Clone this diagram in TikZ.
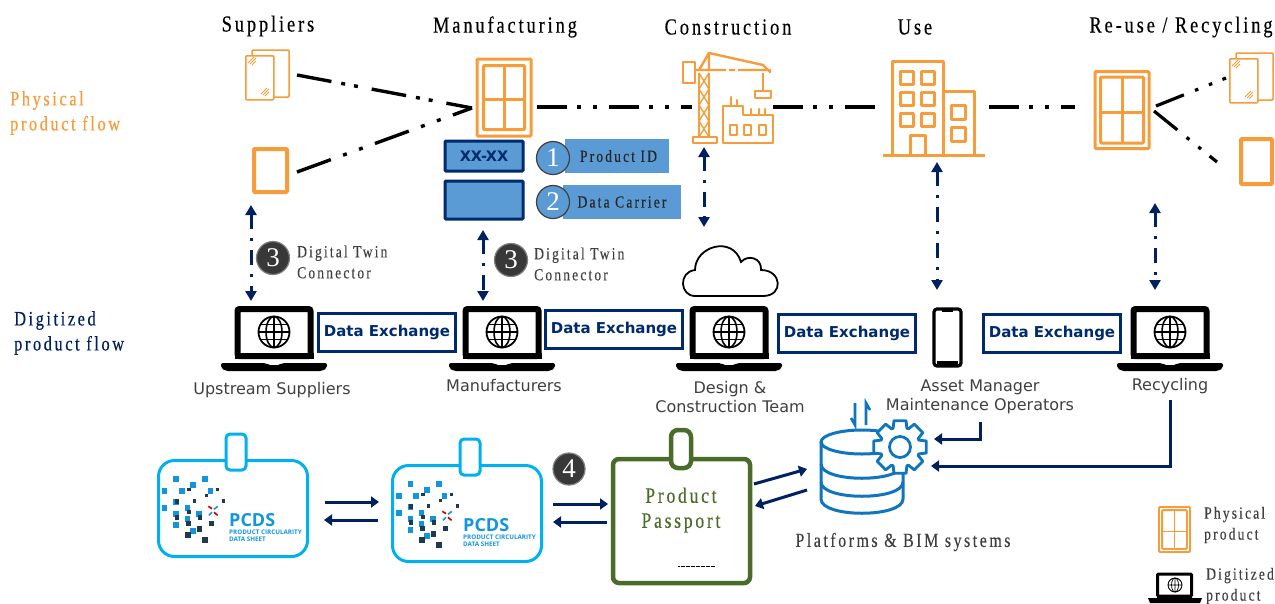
\documentclass[tikz,border=0pt]{standalone}
\usepackage{fontspec}
\usetikzlibrary{arrows.meta,calc}
\setmainfont{Liberation Serif}
\newfontfamily\trf[FakeStretch=0.8,LetterSpace=12.5,RawFeature={embolden=0.25}]{Liberation Serif}
\newfontfamily\lab{DejaVu Sans}
\newfontfamily\pcd{Open Sans}
\definecolor{org}{HTML}{F79C3A}
\definecolor{navy}{HTML}{002060}
\definecolor{navyb}{HTML}{002A6E}
\definecolor{sky}{HTML}{5B9BD5}
\definecolor{cyanb}{HTML}{00B0F0}
\definecolor{grn}{HTML}{4A6B2A}
\definecolor{dbb}{HTML}{0F75BD}
\definecolor{logob}{HTML}{1296DB}
\definecolor{logod}{HTML}{1F3A4D}
\definecolor{txtg}{HTML}{404040}
\newcommand{\fs}[1]{\fontsize{#1}{#1}\selectfont}
\tikzset{
  flow/.style={line width=3.4pt,black,dash pattern=on 30pt off 10pt on 4pt off 12pt on 4pt off 12pt},
  flowb/.style={line width=3.4pt,black,dash pattern=on 35pt off 10pt on 4pt off 9pt on 4pt off 14pt},
  flowc/.style={line width=3.4pt,black,dash pattern=on 36pt off 13pt on 4pt off 13pt on 4pt off 13pt},
  twin/.style={line width=3pt,navy,dash pattern=on 15pt off 9pt on 3pt off 9pt,{Triangle[length=10pt,width=11pt]}-{Triangle[length=10pt,width=11pt]}},
  link/.style={line width=3pt,navy,-{Triangle[length=8pt,width=11pt]}},
  ico/.style={org,line width=2.4pt,line join=round},
  winout/.style={draw=org,line width=3pt,fill=white,inner sep=0pt,rounded corners=1pt},
  head/.style={inner sep=0pt,font=\trf\fs{23},text=black},
  side/.style={inner sep=0pt,anchor=west,align=left,font=\trf\fs{20.5}},
  smalltxt/.style={inner sep=0pt,anchor=west,align=left,font=\trf\fs{17},text=txtg},
  who/.style={inner sep=0pt,align=center,font=\lab\fs{16},text=txtg},
  dx/.style={draw=navyb,line width=3pt,fill=white,inner sep=0pt,font=\lab\bfseries\fs{15},text=navyb,minimum height=38pt,minimum width=137pt},
  num/.style={circle,draw=#1,line width=1.2pt,minimum size=33pt,inner sep=0pt,font=\fs{27},text=white},
  numdark/.style={num=gray,fill=black!78},
  numblue/.style={num=black!75,fill=sky},
  bar/.style={fill=sky,inner sep=0pt,font=\trf\fs{17},text=black!85},
  carrier/.style={draw=navyb,line width=3pt,fill=sky,inner sep=0pt,rounded corners=1pt,minimum width=78pt,font=\lab\bfseries\fs{14.5},text=navyb},
  badge/.style={draw=cyanb,line width=3pt,fill=white,inner sep=0pt,rounded corners=16pt,minimum width=149pt,minimum height=96pt},
  tab/.style={draw=cyanb,line width=3pt,fill=white,inner sep=0pt,rounded corners=4pt,minimum width=20pt,minimum height=36pt},
}
% window icon: name, cx, cy, w, h, inset, line width
\newcommand{\windowicon}[7]{%
  \node[winout,line width=#7pt,minimum width=#4pt,minimum height=#5pt] (#1) at (#2,#3) {};
  \draw[org,line width=#7pt,rounded corners=1pt] ($(#1.north west)+(#6,#6)$) rectangle ($(#1.south east)+(-#6,-#6)$);
  \draw[org,line width=#7pt] ($(#1.north)+(0,#6)$) -- ($(#1.south)+(0,-#6)$);
  \draw[org,line width=#7pt] ($(#1.west)+(#6,2)$) -- ($(#1.east)+(-#6,2)$);
}
% glass panes: name, x of front left, y of front top
\newcommand{\glassicon}[3]{%
  \begin{scope}[shift={(#2,#3)}]
  \draw[org,line width=1.5pt,fill=white,rounded corners=1pt] (7,-5) rectangle (44,42);
  \node[draw=org,line width=1.5pt,fill=white,rounded corners=1pt,inner sep=0pt,minimum width=28pt,minimum height=44pt,anchor=north west] (#1) at (0,0) {};
  \foreach \dx/\dy in {3/8,16/39}{
    \draw[org,line width=1pt] (\dx,\dy) -- (\dx+6,\dy-6) (\dx+2,\dy+1) -- (\dx+8,\dy-5)
      (\dx+4,\dy+2) -- (\dx+8,\dy-2);}
  \end{scope}
}
% laptop: name, cx
\newcommand{\laptopicon}[2]{%
  \node[draw=black,line width=6pt,fill=white,inner sep=0pt,rounded corners=2pt,minimum width=73pt,minimum height=47pt] (#1) at (#2,332.5) {};
  \fill[black] (#2-39.5,353) rectangle (#2+39.5,359);
  \fill[black,rounded corners=2pt] (#2-53,363) -- (#2-8,363) -- (#2-6,365) -- (#2+6,365) -- (#2+8,363) -- (#2+53,363) -- (#2+53,368) -- (#2+48,371) -- (#2-48,371) -- (#2-53,368) -- cycle;
  \begin{scope}[shift={(#2,332)}]
  \draw[black,line width=1.8pt] (0,0) circle (15.5);
  \draw[black,line width=1.6pt] (0,-15.5) -- (0,15.5) (-15.5,0) -- (15.5,0);
  \draw[black,line width=1.6pt] (0,0) ellipse (8 and 15.5);
  \draw[black,line width=1.2pt] (-13.5,-7.5) -- (13.5,-7.5) (-13.5,7.5) -- (13.5,7.5);
  \end{scope}
}
% PCDS logo and badge
\newcommand{\pcdsbadge}[4]{%
  \node[badge] (#1) at (#3+83,#4+88.5) {};
  \node[tab] (#1tab) at (#3+86,#4+32) {};
  \begin{scope}[shift={(#3,#4)},x=0.3333pt,y=-0.3333pt]
  \foreach \a/\b in {79/177,165/177,130/195,44/212,96/212,182/212,79/246,44/264,113/264,79/282,148/282,113/298,79/316,130/333}
    \fill[logob] (\a-8.5,\b-8.5) rectangle (\a+8.5,\b+8.5);
  \foreach \a/\b/\s in {117/209/5,203/209/5,169/226/5,81/244/7,134/243/5,221/243/5,116/277/6,81/293/7,150/293/7,115/310/8,184/310/8,149/327/8,114/344/9,165/361/9}
    \fill[logod] (\a-\s,\b-\s) rectangle (\a+\s,\b+\s);
  \draw[line width=1.6pt,red!80!black] (175,259) -- (186,266) (192,277) -- (203,286);
  \draw[line width=1.6pt,logob] (203,259) -- (192,268) (186,277) -- (177,286);
  \end{scope}
  \node[inner sep=0pt,anchor=west,font=\pcd\bfseries\fs{18},text=logob] (#1a) at (#3+79,#4+100) {PCDS};
  \node[inner sep=0pt,anchor=west,align=left,font=\pcd\bfseries\fs{6.3},text=logob] (#1b) at (#3+79,#4+115.5) {PRODUCT CIRCULARITY\\[0.5pt]DATA SHEET};
}
\begin{document}
\begin{tikzpicture}[x=1pt,y=-1pt]
\useasboundingbox (0,0) rectangle (1275,603);
\fill[white] (0,0) rectangle (1275,603);
% headings
\node[head] (hsup) at (268,26) {Suppliers};
\node[head] (hman) at (505,27) {Manufacturing};
\node[head] (hcon) at (728,27) {Construction};
\node[head] (huse) at (915,27) {Use};
\node[head] (hrec) at (1181,27) {Re-use / Recycling};
\node[side,text=org] (lphys) at (10,113) {Physical\\[4.5pt]product flow};
\node[side,text=navy] (ldig) at (14,333) {Digitized\\[4.5pt]product flow};
% physical icons
\glassicon{glassL}{245}{55}
\node[draw=org,line width=4pt,fill=white,inner sep=0pt,rounded corners=1pt,minimum width=33pt,minimum height=43pt] (frameL) at (270.5,170.5) {};
\windowicon{winM}{504}{97.5}{54}{77}{8}{3}
% crane
\node[inner sep=0pt,minimum width=90pt,minimum height=90pt] (crane) at (728,98) {};
\draw[ico,fill=white] (683,62) rectangle (695,83);
\draw[ico] (695,70) -- (726,70) (729,70) -- (735,70) (738,70) -- (770,70) -- (770,72) -- (763,65) -- (709,53) -- (699,70) (709,53) -- (709,70);
\draw[ico] (699,73) -- (699,137) (709,73) -- (709,137);
\draw[ico,line width=1.4pt] (699,73) -- (709,89) -- (699,105) -- (709,121) -- (699,137) (709,73) -- (699,89) -- (709,105) -- (699,121) -- (709,137);
\draw[ico] (693,137) rectangle (717,143);
\draw[ico] (763,73) -- (763,91);
\draw[ico] (755,91) rectangle (771,98);
\draw[ico] (723,143) -- (723,106) -- (731,106) -- (731,97) -- (731,106) -- (737,106) -- (737,100) -- (737,106) -- (743,106) -- (743,115) -- (751,115) -- (751,109) -- (751,115) -- (759,115) -- (759,109) -- (759,115) -- (765,115) -- (765,109) -- (765,115) -- (773,115) -- (773,143) -- cycle;
\foreach \q in {730,744,759} \draw[ico] (\q,125) rectangle (\q+7,135);
% building
\node[inner sep=0pt,minimum width=102pt,minimum height=95pt] (bldg) at (934,108) {};
\draw[ico,line width=3pt] (892,155) -- (892,61) -- (943,61) -- (943,155) (943,91) -- (974,91) -- (974,155);
\draw[ico,line width=3pt] (883,155) -- (985,155);
\foreach \q in {900,921} \foreach \r in {71,92,113} \draw[ico,line width=3pt] (\q,\r) rectangle (\q+13,\r+13);
\draw[ico,line width=3pt] (910,155) -- (910,135) -- (925,135) -- (925,155);
\foreach \r in {105,127} \draw[ico,line width=3pt] (951,\r) rectangle (965,\r+14);
\windowicon{winR}{1122}{110}{54}{77}{7}{3}
\glassicon{glassR}{1229}{58}
\node[draw=org,line width=4pt,fill=white,inner sep=0pt,rounded corners=1pt,minimum width=31pt,minimum height=45pt] (frameR) at (1256.5,161.5) {};
% physical flow
\coordinate (s1a) at (297,75); \coordinate (s2a) at (297,172); \coordinate (tip) at (472,108);
\draw[flowb] (s1a) -- (tip);
\draw[flowc] (s2a) -- (tip);
\coordinate (m1) at (537,107); \coordinate (m2) at (692,107);
\coordinate (c1) at (773,107); \coordinate (c2) at (877,107);
\coordinate (u1) at (989,107); \coordinate (u2) at (1075,107);
\draw[flow] (m1) -- (m2);
\draw[flow] (c1) -- (c2);
\draw[flow] (u1) -- (u2);
\coordinate (r0) at (1156,106); \coordinate (r1) at (1226,78);
\coordinate (r3) at (1154,111); \coordinate (r4) at (1217,162);
\draw[line width=3.2pt,dash pattern=on 30pt off 12pt on 3.5pt off 11.5pt on 3.5pt off 11pt] (r0) -- (r1);
\draw[line width=3.2pt,dash pattern=on 30pt off 12pt on 3.5pt off 11.5pt on 3.5pt off 11pt] (r3) -- (r4);
% product id
\node[carrier,minimum height=30pt] (xx) at (484,156) {XX-XX};
\node[carrier,minimum height=38pt] (dc) at (484,200) {};
\node[bar,minimum width=104pt,minimum height=34pt] (pid) at (617,156) {\hspace*{3pt}Product ID};
\node[bar,minimum width=118pt,minimum height=34pt] (dcar) at (622,202) {Data Carrier};
\node[numblue] (n1) at (553,158) {1};
\node[numblue] (n2) at (553,202) {2};
% laptops
\laptopicon{lap1}{274}
\laptopicon{lap2}{502}
\laptopicon{lap3}{729}
\laptopicon{lap4}{1170}
\node[draw=black,line width=3.2pt,fill=white,inner sep=0pt,rounded corners=3pt,minimum width=27pt,minimum height=57pt] (phone) at (947.5,337.5) {};
\fill[black] (937,361) rectangle (958,366);
\fill[black] (942,309) rectangle (953,312);
% twin connectors
\coordinate (a1) at (251,205); \coordinate (a2) at (251,301);
\coordinate (b1) at (483,230); \coordinate (b2) at (483,301);
\coordinate (c3) at (704,147); \coordinate (c4) at (704,227);
\coordinate (d1) at (937,162); \coordinate (d2) at (937,290);
\coordinate (e1) at (1155,203); \coordinate (e2) at (1155,290);
\draw[twin] (a1) -- (a2);
\draw[twin] (b1) -- (b2);
\draw[twin] (c3) -- (c4);
\draw[twin] (d1) -- (d2);
\draw[twin] (e1) -- (e2);
\node[numdark] (n3a) at (273,258) {3};
\node[smalltxt] (t3a) at (297,262) {Digital Twin\\[4pt]Connector};
\node[numdark] (n3b) at (511,260) {3};
\node[smalltxt] (t3b) at (534,264) {Digital Twin\\[4pt]Connector};
% cloud
\node[inner sep=0pt,minimum width=98pt,minimum height=58pt] (cloud) at (730,268) {};
\draw[black,line width=1.8pt,fill=white] (695,296) .. controls (680,296) and (678,272) .. (695,270) .. controls (695,246) and (733,235) .. (741,262) .. controls (748,254) and (762,258) .. (761,270) .. controls (782,270) and (784,296) .. (763,296) -- cycle;
% data exchange
\node[dx] (dx1) at (387,332) {Data Exchange};
\node[dx] (dx2) at (614,329.5) {Data Exchange};
\node[dx] (dx3) at (847,333) {Data Exchange};
\node[dx] (dx4) at (1052,333) {Data Exchange};
% stakeholders
\node[who] (wsup) at (272,390) {Upstream Suppliers};
\node[who] (wman) at (504,386) {Manufacturers};
\node[who] (wdes) at (730,397) {Design \&\\[3pt]Construction Team};
\node[who] (wass) at (980,397) {Asset Manager\\[3pt]Maintenance Operators};
\node[who] (wrec) at (1170,386) {Recycling};
% badges
\pcdsbadge{pcdsA}{}{150}{420}
\pcdsbadge{pcdsB}{}{384}{425}
\coordinate (p1) at (325,502); \coordinate (p2) at (379,502);
\coordinate (p3) at (378,520); \coordinate (p4) at (324,520);
\draw[link] (p1) -- (p2);
\draw[link] (p3) -- (p4);
\coordinate (q1) at (553,504); \coordinate (q2) at (608,504);
\coordinate (q3) at (607,522); \coordinate (q4) at (553,522);
\draw[link] (q1) -- (q2);
\draw[link] (q3) -- (q4);
\node[numdark,minimum size=32pt] (n4) at (569,469) {4};
% passport
\node[draw=grn,line width=4.5pt,fill=white,inner sep=0pt,rounded corners=6pt,minimum width=137pt,minimum height=124pt] (pass) at (681.5,521) {};
\node[draw=grn,line width=4.5pt,fill=white,inner sep=0pt,rounded corners=7pt,minimum width=20pt,minimum height=38pt] (passtab) at (681,449) {};
\node[inner sep=0pt,align=center,font=\trf\fs{22},text=grn] (passt) at (681,510) {Product\\[3pt]Passport};
\draw[black,line width=0.7pt,dash pattern=on 2pt off 0.5pt] (678,566) -- (715,566);
% database
\node[inner sep=0pt,minimum width=83pt,minimum height=86pt] (db) at (862,470) {};
\draw[dbb,line width=3pt,fill=white] (821,442) -- (821,499) .. controls (821,518) and (903,518) .. (903,499) -- (903,442);
\draw[dbb,line width=3pt] (862,442) ellipse (41 and 12);
\draw[dbb,line width=3pt] (821,464) .. controls (821,483) and (903,483) .. (903,464);
\draw[dbb,line width=3pt] (821,482) .. controls (821,501) and (903,501) .. (903,482);
\begin{scope}[shift={(900,447)}]
\draw[dbb,line width=2.8pt,fill=white,line join=round] (90-13:27) \foreach \a in {90,135,...,405} { -- (\a-13:27) -- (\a+13:27) -- (\a+20:20) -- (\a+25:20)} -- cycle;
\draw[dbb,line width=2.8pt] (0,0) circle (10.5);
\end{scope}
\coordinate (au1) at (855,403); \coordinate (au2) at (855,425);
\coordinate (au3) at (866,425); \coordinate (au4) at (866,403);
\draw[dbb,line width=2.6pt] (au1) -- (au2) -- ++(-4,-7);
\draw[dbb,line width=2.6pt] (au3) -- (au4) -- ++(4,7);
\node[inner sep=0pt,font=\trf\fs{20},text=txtg] (plat) at (903,542) {Platforms \& BIM systems};
% links to platform
\coordinate (g1) at (754,484); \coordinate (g2) at (807,469);
\coordinate (g3) at (807,490); \coordinate (g4) at (755,506);
\draw[link] (g1) -- (g2);
\draw[link] (g3) -- (g4);
\coordinate (h1) at (980,422); \coordinate (h2) at (980,439); \coordinate (h3) at (934,439);
\draw[link] (h1) -- (h2) -- (h3);
\coordinate (i1) at (1170,400); \coordinate (i2) at (1170,466); \coordinate (i3) at (931,466);
\draw[link] (i1) -- (i2) -- (i3);
% legend
\windowicon{winL}{1174.5}{529.5}{31}{45}{4}{1.8}
\node[smalltxt] (lg1) at (1204,525) {Physical\\[4pt]product};
\node[smalltxt] (lg2) at (1206,586) {Digitized\\[4pt]product};
\node[draw=black,line width=3pt,fill=white,inner sep=0pt,rounded corners=1pt,minimum width=34pt,minimum height=22pt] (lapL) at (1174.5,585) {};
\fill[black] (1148,598) -- (1157,598) -- (1157,596) -- (1192,596) -- (1192,598) -- (1202,598) -- (1200,603) -- (1150,603) -- cycle;
\draw[black,line width=0.9pt] (1175,585) circle (7) (1175,578) -- (1175,592) (1168,585) -- (1182,585);
\draw[black,line width=0.7pt] (1175,585) ellipse (3.5 and 7);
\end{tikzpicture}
\end{document}
